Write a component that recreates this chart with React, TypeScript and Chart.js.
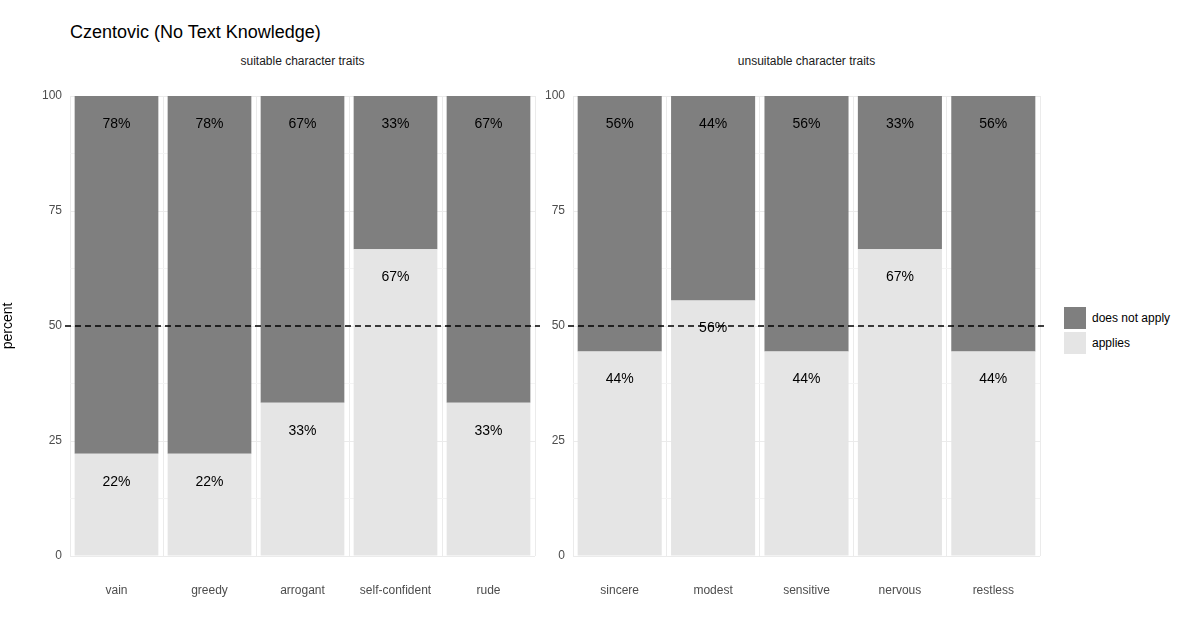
import React, { useEffect, useRef } from "react";
import { Chart, registerables } from "chart.js";
Chart.register(...registerables);

const leftCats = ["vain", "greedy", "arrogant", "self-confident", "rude"];
const leftApplies = [22.22, 22.22, 33.33, 66.67, 33.33];
const rightCats = ["sincere", "modest", "sensitive", "nervous", "restless"];
const rightApplies = [44.44, 55.56, 44.44, 66.67, 44.44];
const yTicks = [0, 25, 50, 75, 100];
const DARK = "#7f7f7f";
const LIGHT = "#e5e5e5";
const FONT = "'Liberation Sans', Arial, sans-serif";

const overlay = {
  id: "overlay",
  afterDatasetsDraw(chart: any) {
    const { ctx, chartArea, scales } = chart;
    const y50 = scales.y.getPixelForValue(50);
    ctx.save();
    ctx.strokeStyle = "#000";
    ctx.lineWidth = 1.3;
    ctx.setLineDash([6, 4]);
    ctx.beginPath();
    ctx.moveTo(chartArea.left - 5, y50);
    ctx.lineTo(chartArea.right + 5, y50);
    ctx.stroke();
    ctx.setLineDash([]);
    ctx.fillStyle = "#000";
    ctx.font = `14px ${FONT}`;
    ctx.textAlign = "center";
    ctx.textBaseline = "middle";
    chart.data.datasets.forEach((ds: any, di: number) => {
      const meta = chart.getDatasetMeta(di);
      meta.data.forEach((bar: any, i: number) => {
        const v = ds.data[i];
        ctx.fillText(Math.round(v) + "%", bar.x, bar.y + 28);
      });
    });
    ctx.restore();
  },
};

function Panel({ cats, applies, yWidth, padRight, showTitle }: any) {
  const ref = useRef<HTMLCanvasElement>(null);
  useEffect(() => {
    const chart = new Chart(ref.current!, {
      type: "bar",
      data: {
        labels: cats,
        datasets: [
          { label: "applies", data: applies, backgroundColor: LIGHT },
          { label: "does not apply", data: applies.map((a: number) => +(100 - a).toFixed(2)), backgroundColor: DARK },
        ],
      },
      options: {
        responsive: false,
        animation: false,
        layout: { padding: { top: 96, right: padRight, left: 0, bottom: 0 } },
        datasets: { bar: { categoryPercentage: 0.9, barPercentage: 1 } },
        plugins: { legend: { display: false }, tooltip: { enabled: false } },
        scales: {
          x: {
            stacked: true,
            grid: { color: "#ebebeb", drawTicks: false },
            border: { display: false },
            ticks: { color: "#4d4d4d", font: { size: 12, family: FONT }, padding: 27 },
            afterFit(s: any) { s.height = 71; },
          },
          y: {
            stacked: true,
            min: 0,
            max: 100,
            grid: {
              color: (c: any) => (c.tick && c.tick.value % 25 === 0 ? "#ebebeb" : "#f4f4f4"),
              drawTicks: false,
            },
            border: { display: false },
            ticks: {
              stepSize: 12.5,
              color: "#4d4d4d",
              font: { size: 12, family: FONT },
              padding: 8,
              callback: (v: any) => (yTicks.includes(v) ? String(v) : ""),
            },
            title: { display: showTitle, text: "percent", color: "#000", font: { size: 14, family: FONT }, padding: 0 },
            afterFit(s: any) { s.width = yWidth; },
          },
        },
      },
      plugins: [overlay],
    });
    return () => chart.destroy();
  }, []);
  return <canvas ref={ref} width={yWidth + 465 + padRight + (showTitle ? 0 : 2)} height={627} />;
}

export default function App() {
  const txt: any = { position: "absolute", fontFamily: FONT, color: "#1a1a1a" };
  return (
    <div style={{ position: "fixed", left: 0, top: 0, width: 1200, height: 627, background: "#fff" }}>
      <div style={{ ...txt, left: 70, top: 22, fontSize: 18, color: "#000" }}>Czentovic (No Text Knowledge)</div>
      <div style={{ ...txt, left: 70, width: 465, top: 54, fontSize: 12, textAlign: "center" }}>suitable character traits</div>
      <div style={{ ...txt, left: 573, width: 467, top: 54, fontSize: 12, textAlign: "center" }}>unsuitable character traits</div>
      <div style={{ position: "absolute", left: 0, top: 0 }}>
        <Panel cats={leftCats} applies={leftApplies} yWidth={70} padRight={5} showTitle={true} />
      </div>
      <div style={{ position: "absolute", left: 540, top: 0 }}>
        <Panel cats={rightCats} applies={rightApplies} yWidth={33} padRight={5} showTitle={false} />
      </div>
      <div style={{ position: "absolute", left: 1064, top: 305, fontFamily: FONT, fontSize: 12, color: "#000" }}>
        {[["does not apply", DARK], ["applies", LIGHT]].map(([l, c]) => (
          <div key={l} style={{ display: "flex", alignItems: "center", height: 25 }}>
            <div style={{ width: 22, height: 22, background: c, marginRight: 6 }} />
            <span>{l}</span>
          </div>
        ))}
      </div>
    </div>
  );
}
